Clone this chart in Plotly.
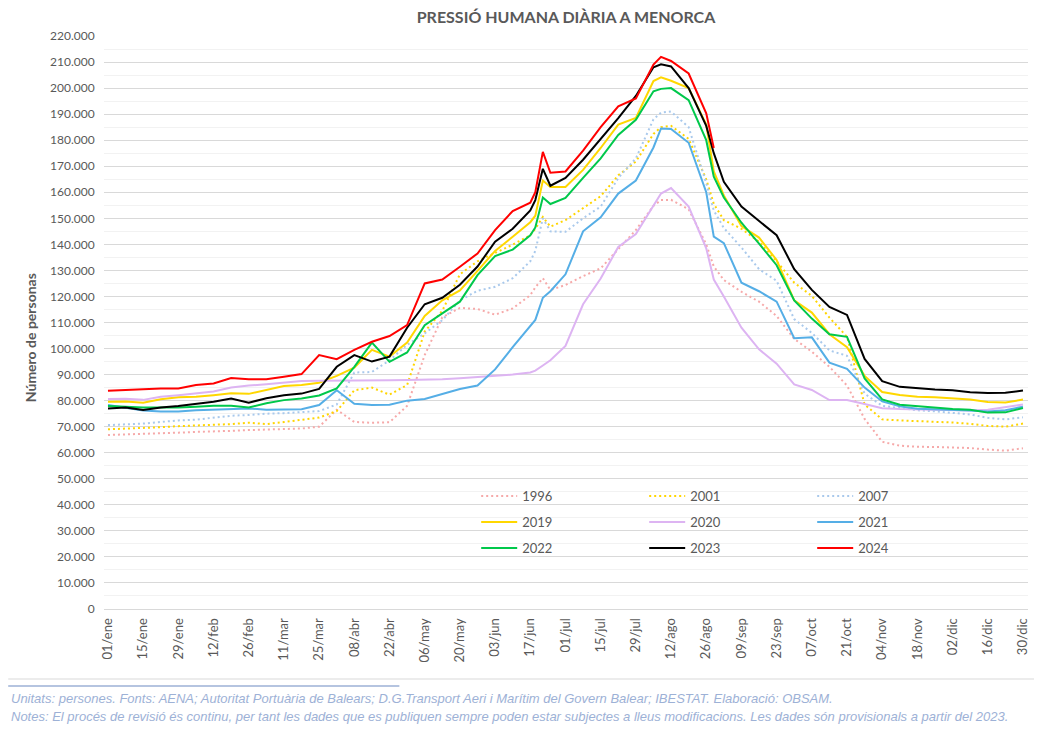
import numpy as np
import pandas as pd
import plotly.graph_objects as go

# day of year (0 = 01/ene) for every sample
DAY_OF_YEAR = [0, 7, 14, 21, 28, 35, 42, 49, 56, 63, 70, 77, 84, 91, 98, 105, 112, 119,
               126, 133, 140, 147, 154, 161, 168, 170, 173, 176, 182, 189, 196, 203, 210,
               217, 220, 224, 231, 238, 241, 245, 252, 259, 266, 273, 280, 287, 294, 301,
               308, 315, 322, 329, 336, 343, 350, 357, 364]

TICK_LABELS = ["01/ene", "15/ene", "29/ene", "12/feb", "26/feb", "11/mar", "25/mar",
               "08/abr", "22/abr", "06/may", "20/may", "03/jun", "17/jun", "01/jul",
               "15/jul", "29/jul", "12/ago", "26/ago", "09/sep", "23/sep", "07/oct",
               "21/oct", "04/nov", "18/nov", "02/dic", "16/dic", "30/dic"]

# values in thousands of persons
y1996 = [66.8, 67.0, 67.1, 67.5, 67.7, 68.0, 68.1, 68.4, 68.7, 68.9, 69.0, 69.3, 70.0, 76.5,
         71.8, 71.5, 71.7, 78.0, 97.5, 112.0, 115.6, 115.2, 113.0, 115.4, 120.5, 123.5, 127.0,
         122.5, 124.4, 127.8, 130.8, 138.3, 145.5, 154.8, 157.0, 157.1, 153.5, 140.0, 131.5,
         126.3, 121.8, 118.0, 112.5, 103.7, 98.8, 93.0, 85.8, 73.0, 64.2, 62.7, 62.3, 62.2,
         62.1, 61.8, 61.2, 60.8, 61.7]
y2001 = [69.0, 69.2, 69.5, 69.8, 70.2, 70.4, 70.7, 71.0, 71.5, 71.0, 71.8, 72.6, 73.5, 76.0,
         84.0, 85.0, 82.3, 86.0, 106.5, 114.5, 128.5, 133.5, 136.7, 139.9, 143.5, 146.0, 150.5,
         146.8, 149.3, 154.0, 158.5, 166.5, 171.8, 182.4, 185.0, 185.5, 180.5, 165.0, 155.5,
         149.3, 146.0, 141.0, 133.5, 125.3, 120.2, 111.9, 104.5, 78.5, 72.8, 72.4, 72.2, 71.9,
         71.6, 71.1, 70.3, 70.0, 71.2]
y2007 = [70.6, 70.9, 71.2, 71.8, 72.4, 72.7, 73.4, 74.2, 74.5, 75.0, 75.2, 75.5, 76.0, 78.5,
         90.8, 91.0, 95.5, 101.4, 105.8, 110.9, 118.5, 122.2, 123.7, 127.0, 133.5, 137.5, 150.0,
         145.0, 144.8, 150.0, 154.5, 165.5, 173.0, 188.0, 190.6, 191.0, 185.0, 163.5, 153.0,
         146.3, 138.8, 130.5, 126.0, 111.3, 106.0, 99.3, 97.2, 82.7, 78.0, 77.2, 76.3, 75.9,
         75.2, 74.7, 73.4, 72.8, 73.6]
y2019 = [79.6, 79.7, 79.2, 80.5, 81.3, 81.5, 82.1, 82.8, 82.6, 84.1, 85.6, 86.0, 86.9, 89.5,
         92.7, 99.5, 96.9, 102.3, 112.5, 118.5, 122.3, 129.8, 137.5, 142.9, 148.5, 151.0, 164.5,
         162.0, 162.0, 168.6, 177.0, 186.0, 188.5, 202.7, 204.1, 202.8, 200.0, 186.0, 168.0,
         158.8, 147.0, 142.6, 134.0, 118.5, 113.8, 105.5, 100.5, 89.5, 83.3, 82.2, 81.5, 81.3,
         80.9, 80.4, 79.5, 79.3, 80.4]
y2020 = [80.6, 80.7, 80.3, 81.5, 82.1, 82.8, 83.5, 85.0, 85.8, 86.3, 87.0, 87.5, 87.6, 87.6,
         87.7, 87.8, 87.8, 87.9, 88.0, 88.2, 88.6, 89.0, 89.5, 90.0, 90.8, 91.5, 93.5,
         95.5, 101.0, 117.0, 126.9, 139.0, 144.0, 155.0, 159.5, 161.6, 154.5, 138.5, 126.5,
         120.0, 108.0, 99.7, 94.2, 86.2, 84.1, 80.2, 80.2, 78.7, 77.1, 76.8, 76.6, 76.4,
         76.3, 76.2, 76.5, 77.5, 78.5]
y2021 = [78.3, 77.2, 76.2, 75.8, 75.8, 76.3, 76.6, 76.8, 77.0, 76.5, 76.6, 76.7, 78.3, 84.0,
         78.8, 78.3, 78.4, 80.0, 80.6, 82.5, 84.5, 85.8, 92.0, 100.5, 108.8, 111.0, 119.5,
         122.0, 128.5, 145.0, 150.4, 159.5, 164.5, 177.2, 184.5, 184.3, 179.0, 160.0, 143.0,
         140.5, 125.3, 122.0, 118.0, 104.0, 104.3, 94.6, 92.2, 85.0, 79.7, 77.8, 76.9, 76.7,
         76.5, 76.2, 75.8, 76.3, 77.7]
y2022 = [77.9, 77.6, 77.4, 77.4, 77.4, 77.7, 78.0, 78.0, 77.4, 79.0, 80.2, 80.8, 82.0, 84.7,
         93.0, 102.3, 94.9, 98.5, 109.0, 113.5, 118.0, 128.2, 135.5, 138.0, 143.5, 146.5, 158.0,
         155.5, 157.8, 165.5, 173.0, 182.0, 187.8, 198.8, 199.7, 200.0, 195.4, 180.0, 166.0,
         158.0, 148.3, 140.3, 132.0, 118.5, 111.5, 105.5, 104.5, 88.5, 80.5, 78.4, 77.8, 77.3,
         76.8, 76.5, 75.4, 75.5, 77.2]
y2023 = [77.0, 77.4, 76.4, 77.4, 77.9, 78.7, 79.6, 80.8, 79.2, 80.9, 82.1, 82.7, 84.5, 93.0,
         97.5, 95.0, 96.9, 108.0, 117.0, 119.5, 124.5, 131.5, 141.0, 146.0, 153.0, 157.0, 169.0,
         162.5, 165.5, 172.5, 180.5, 188.5, 197.0, 208.0, 209.1, 208.3, 200.0, 185.5, 175.0,
         164.0, 154.5, 149.0, 143.5, 130.5, 122.5, 116.0, 112.9, 96.0, 87.5, 85.3, 84.7, 84.3,
         84.0, 83.2, 82.9, 83.0, 83.9]
y2024 = [83.8, 84.1, 84.3, 84.7, 84.7, 86.0, 86.6, 88.7, 88.2, 88.2, 89.2, 90.2, 97.5, 95.9,
         99.5, 102.6, 104.8, 109.0, 125.0, 126.5, 131.4, 136.5, 145.5, 152.8, 156.0, 160.0, 175.5,
         167.5, 168.0, 176.0, 185.0, 193.0, 196.0, 209.0, 212.0, 210.4, 205.6, 190.3, 177.0,
         None, None, None, None, None, None, None, None, None, None, None, None, None,
         None, None, None, None, None]

SERIES = [
    ("1996", y1996, "#F6A9A9", "2px,3px", "legend"),
    ("2001", y2001, "#FFD500", "2px,3px", "legend"),
    ("2007", y2007, "#A9C9EC", "2px,3px", "legend"),
    ("2019", y2019, "#FFD700", "solid", "legend2"),
    ("2020", y2020, "#DDB4F2", "solid", "legend2"),
    ("2021", y2021, "#55AEE6", "solid", "legend2"),
    ("2022", y2022, "#00C84B", "solid", "legend3"),
    ("2023", y2023, "#000000", "solid", "legend3"),
    ("2024", y2024, "#FF0000", "solid", "legend3"),
]

GREY = "#595959"
# the page body adds an 8px offset, so the figure is drawn 8px smaller
OFF = 8
W, H = 1042 - OFF, 738 - OFF
L, R, T, B = 104 - OFF, 12, 36 - OFF, 129


def px_x(px):
    # screen pixel -> paper x
    return (px - OFF - L) / (W - L - R)


def px_y(py):
    # screen pixel -> paper y
    return (H - B - (py - OFF)) / (H - B - T)


dates = pd.Timestamp("2024-01-01") + pd.to_timedelta(DAY_OF_YEAR, unit="D")
tick_dates = pd.date_range("2024-01-01", periods=len(TICK_LABELS), freq="14D")

fig = go.Figure()
for name, vals, color, dash, leg in SERIES:
    y = np.array([np.nan if v is None else v * 1000 for v in vals])
    fig.add_trace(go.Scatter(
        x=dates, y=y, name=name, mode="lines", legend=leg,
        line=dict(color=color, width=2, dash=dash),
        connectgaps=False,
    ))

legend_style = dict(
    orientation="h", xanchor="left", yanchor="middle", x=px_x(477),
    entrywidth=117, entrywidthmode="pixels", itemwidth=36, bgcolor="rgba(0,0,0,0)",
    font=dict(family="Lato, sans-serif", size=13, color=GREY),
)

fig.update_layout(
    width=W, height=H,
    margin=dict(l=L, r=R, t=T, b=B),
    paper_bgcolor="white", plot_bgcolor="white",
    separators=",.",
    font=dict(family="Lato, sans-serif", color=GREY),
    title=dict(text="<b>PRESSIÓ HUMANA DIÀRIA A MENORCA</b>", xref="container",
               x=(566 - OFF) / W, xanchor="center", yref="container",
               y=1 - (17 - OFF) / H, yanchor="middle",
               font=dict(family="Lato, sans-serif", size=16, color=GREY)),
    legend=dict(legend_style, y=px_y(496)),
    legend2=dict(legend_style, y=px_y(522)),
    legend3=dict(legend_style, y=px_y(548)),
    xaxis=dict(
        range=[pd.Timestamp("2023-12-30 10:00"), pd.Timestamp("2025-01-01 00:00")],
        tickvals=tick_dates, ticktext=TICK_LABELS, tickangle=-90,
        tickfont=dict(family="Lato, sans-serif", size=13, color=GREY),
        showgrid=False, showline=True, linecolor="#D9D9D9", linewidth=1,
        ticks="outside", ticklen=3, tickcolor="rgba(0,0,0,0)", zeroline=False,
    ),
    yaxis=dict(
        range=[0, 220000], dtick=10000, tickformat=",.0f",
        tickfont=dict(family="Lato, sans-serif", size=12, color=GREY),
        showgrid=True, gridcolor="#D9D9D9", gridwidth=1, zeroline=False,
        ticks="outside", ticklen=6, tickcolor="rgba(0,0,0,0)",
        minor=dict(dtick=5000, showgrid=True, gridcolor="#F2F2F2", gridwidth=1),
    ),
    showlegend=True,
)

fig.add_annotation(
    text="<b>Número de personas</b>", textangle=-90, xref="paper", yref="paper",
    x=px_x(30), y=px_y(338), showarrow=False, xanchor="center", yanchor="middle",
    font=dict(family="Lato, sans-serif", size=14, color=GREY),
)

notes = [
    "Unitats: persones. Fonts: AENA; Autoritat Portuària de Balears; D.G.Transport Aeri i "
    "Marítim del Govern Balear; IBESTAT. Elaboració: OBSAM.",
    "Notes: El procés de revisió és continu, per tant les dades que es publiquen sempre poden "
    "estar subjectes a lleus modificacions. Les dades són provisionals a partir del 2023.",
]
for txt, py in zip(notes, [698, 716]):
    fig.add_annotation(
        text=f"<i>{txt}</i>", xref="paper", yref="paper", x=px_x(9), y=px_y(py),
        showarrow=False, xanchor="left", yanchor="middle",
        font=dict(family="Liberation Sans, Arial, sans-serif", size=13, color="#9DB1D6"),
    )

# chart frame (bottom and right edges) and footer rule
fig.add_shape(type="line", xref="paper", yref="paper", x0=px_x(8), x1=px_x(1040.5),
              y0=px_y(679), y1=px_y(679), line=dict(color="#D9D9D9", width=1))
fig.add_shape(type="line", xref="paper", yref="paper", x0=px_x(1040.5), x1=px_x(1040.5),
              y0=px_y(679), y1=px_y(8), line=dict(color="#D9D9D9", width=1))
fig.add_shape(type="line", xref="paper", yref="paper", x0=px_x(8), x1=px_x(400),
              y0=px_y(686), y1=px_y(686), line=dict(color="#9DB1D6", width=1.5))

fig.write_html("out.html")
